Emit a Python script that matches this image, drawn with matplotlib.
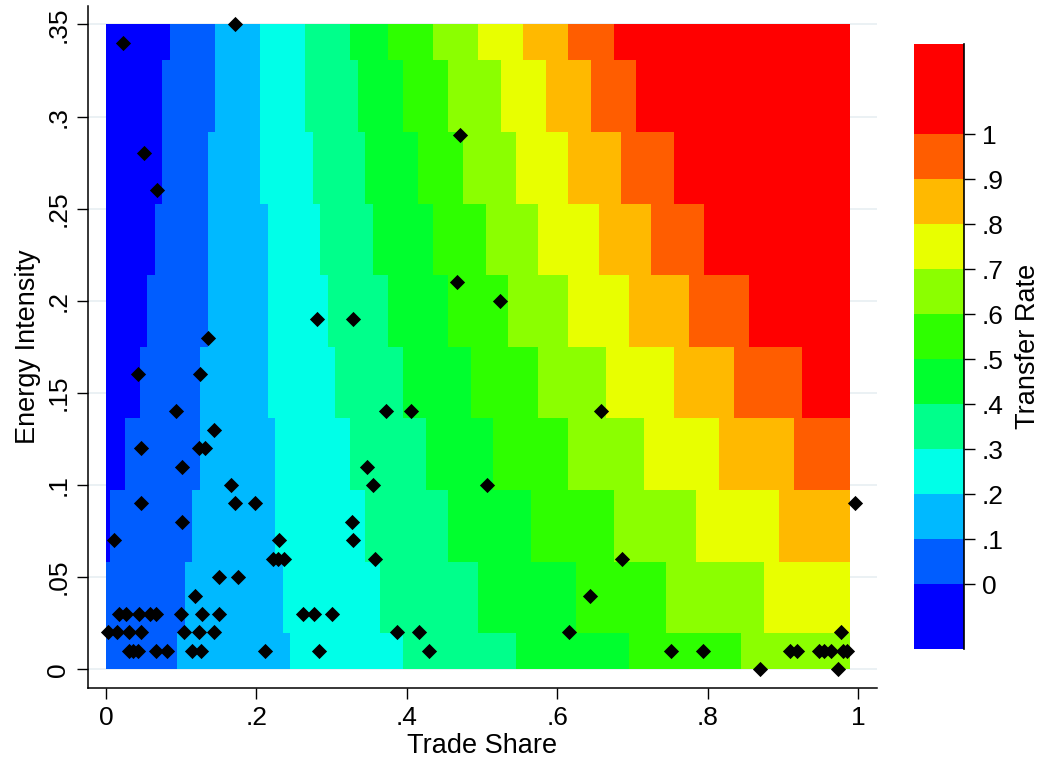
import numpy as np
import matplotlib
matplotlib.use("Agg")
import matplotlib.pyplot as plt
from matplotlib.colors import ListedColormap, BoundaryNorm
import matplotlib.cm as cm

plt.rcParams["font.family"] = ["Liberation Sans", "DejaVu Sans"]

# contour classes: <0, 0-.1, ..., .9-1, >1
level_colors = ["#0000ff", "#005dff", "#00b9ff", "#00ffe8", "#00ff8b", "#00ff2e",
                "#2eff00", "#8bff00", "#e8ff00", "#ffb900", "#ff5d00", "#ff0000"]
rate_cuts = [-0.144, 0, .1, .2, .3, .4, .5, .6, .7, .8, .9, 1, 1.2]

# grid of the contour surface
trade_nodes = np.round(np.arange(100) * 0.01, 2)
energy_nodes = np.linspace(0, 0.35, 10)

# for each energy row (bottom to top): class of the first cell and trade shares where class steps up
row_start = [1, 1, 0, 0, 0, 0, 0, 0, 0, 0]
row_steps = [
    [0.095, 0.245, 0.395, 0.545, 0.695, 0.845],
    [0.105, 0.235, 0.365, 0.495, 0.625, 0.745, 0.875],
    [0.005, 0.115, 0.225, 0.345, 0.455, 0.565, 0.675, 0.785, 0.895],
    [0.025, 0.125, 0.225, 0.325, 0.425, 0.515, 0.615, 0.715, 0.815, 0.915],
    [0.045, 0.125, 0.215, 0.305, 0.395, 0.485, 0.575, 0.665, 0.755, 0.835, 0.925],
    [0.055, 0.135, 0.215, 0.295, 0.375, 0.455, 0.535, 0.615, 0.695, 0.775, 0.855],
    [0.065, 0.135, 0.215, 0.285, 0.355, 0.435, 0.505, 0.575, 0.655, 0.725, 0.795],
    [0.075, 0.135, 0.205, 0.275, 0.345, 0.415, 0.475, 0.545, 0.615, 0.685, 0.755],
    [0.075, 0.145, 0.205, 0.265, 0.335, 0.395, 0.455, 0.525, 0.585, 0.645, 0.705],
    [0.085, 0.145, 0.205, 0.265, 0.325, 0.375, 0.435, 0.495, 0.555, 0.615, 0.675],
]

# observed sectors
trade_share = [0.022, 0.172, 0.050, 0.068, 0.471, 0.467, 0.524, 0.281, 0.328, 0.136,
               0.043, 0.125, 0.093, 0.372, 0.406, 0.658, 0.144, 0.046, 0.124, 0.131,
               0.101, 0.347, 0.166, 0.355, 0.507, 0.046, 0.172, 0.198, 0.996, 0.101,
               0.327, 0.011, 0.230, 0.329, 0.222, 0.229, 0.237, 0.358, 0.686, 0.150,
               0.176, 0.118, 0.643,
               0.017, 0.026, 0.044, 0.059, 0.066, 0.100, 0.128, 0.150, 0.262, 0.276, 0.301,
               0.003, 0.014, 0.031, 0.047, 0.104, 0.124, 0.143, 0.387, 0.416, 0.616, 0.977,
               0.030, 0.036, 0.043, 0.067, 0.081, 0.115, 0.126, 0.211, 0.283, 0.429,
               0.751, 0.794, 0.910, 0.919, 0.948, 0.955, 0.964, 0.980, 0.986,
               0.870, 0.973]
energy_int = [0.34, 0.35, 0.28, 0.26, 0.29, 0.21, 0.20, 0.19, 0.19, 0.18,
              0.16, 0.16, 0.14, 0.14, 0.14, 0.14, 0.13, 0.12, 0.12, 0.12,
              0.11, 0.11, 0.10, 0.10, 0.10, 0.09, 0.09, 0.09, 0.09, 0.08,
              0.08, 0.07, 0.07, 0.07, 0.06, 0.06, 0.06, 0.06, 0.06, 0.05,
              0.05, 0.04, 0.04,
              0.03, 0.03, 0.03, 0.03, 0.03, 0.03, 0.03, 0.03, 0.03, 0.03, 0.03,
              0.02, 0.02, 0.02, 0.02, 0.02, 0.02, 0.02, 0.02, 0.02, 0.02, 0.02,
              0.01, 0.01, 0.01, 0.01, 0.01, 0.01, 0.01, 0.01, 0.01, 0.01,
              0.01, 0.01, 0.01, 0.01, 0.01, 0.01, 0.01, 0.01, 0.01,
              0.0, 0.0]

x_ticks = [0, .2, .4, .6, .8, 1]
x_labels = ["0", ".2", ".4", ".6", ".8", "1"]
y_ticks = [0, .05, .1, .15, .2, .25, .3, .35]
y_labels = ["0", ".05", ".1", ".15", ".2", ".25", ".3", ".35"]
cbar_ticks = [0, .1, .2, .3, .4, .5, .6, .7, .8, .9, 1]
cbar_labels = ["0", ".1", ".2", ".3", ".4", ".5", ".6", ".7", ".8", ".9", "1"]

# class matrix
Z = np.array([s + np.searchsorted(b, trade_nodes) for s, b in zip(row_start, row_steps)])
x_edges = np.concatenate([[trade_nodes[0]], (trade_nodes[:-1] + trade_nodes[1:]) / 2, [trade_nodes[-1]]])
y_edges = np.concatenate([[energy_nodes[0]], (energy_nodes[:-1] + energy_nodes[1:]) / 2, [energy_nodes[-1]]])

cmap = ListedColormap(level_colors)
class_norm = BoundaryNorm(np.arange(len(level_colors) + 1) - 0.5, len(level_colors))

fig = plt.figure(figsize=(10.43, 7.64), dpi=100)
ax = fig.add_axes([0.0847, 0.0999, 0.7559, 0.8922])

ax.pcolormesh(x_edges, y_edges, Z, cmap=cmap, norm=class_norm, shading="flat",
              edgecolors="none", antialiased=False, zorder=1)
ax.scatter(trade_share, energy_int, marker="D", s=60, color="black", linewidths=0,
           zorder=3, clip_on=False)

ax.set_xlim(-0.0235, 1.025)
ax.set_ylim(-0.01, 0.36)
ax.set_axisbelow(True)
ax.yaxis.grid(True, color="#e8eff2", linewidth=1.2)

for side in ["top", "right"]:
    ax.spines[side].set_visible(False)
ax.spines["left"].set_linewidth(1.1)
ax.spines["bottom"].set_linewidth(1.1)

ax.set_xticks(x_ticks)
ax.set_xticklabels(x_labels, fontsize=19)
ax.set_yticks(y_ticks)
ax.set_yticklabels(y_labels, fontsize=19, rotation=90, va="center")
ax.tick_params(axis="both", direction="out", length=8, width=1.0, pad=5)
ax.set_xlabel("Trade Share", fontsize=19.5, labelpad=2)
ax.set_ylabel("Energy Intensity", fontsize=19.5, labelpad=4)

# colorbar
cax = fig.add_axes([0.8763, 0.1505, 0.0479, 0.7919])
sm = cm.ScalarMappable(cmap=cmap, norm=BoundaryNorm(rate_cuts, len(level_colors)))
cbar = fig.colorbar(sm, cax=cax, boundaries=rate_cuts, spacing="proportional", ticks=cbar_ticks)
cbar.outline.set_visible(False)
cbar.set_ticklabels(cbar_labels)
cax.minorticks_off()
cax.tick_params(direction="out", length=8, width=1.0, labelsize=19, pad=5)
cax.plot([1, 1], [0, 1], transform=cax.transAxes, color="black", lw=1.2, clip_on=False)
cbar.set_label("Transfer Rate", fontsize=19.5, labelpad=8)

fig.savefig("out.png", dpi=100)
